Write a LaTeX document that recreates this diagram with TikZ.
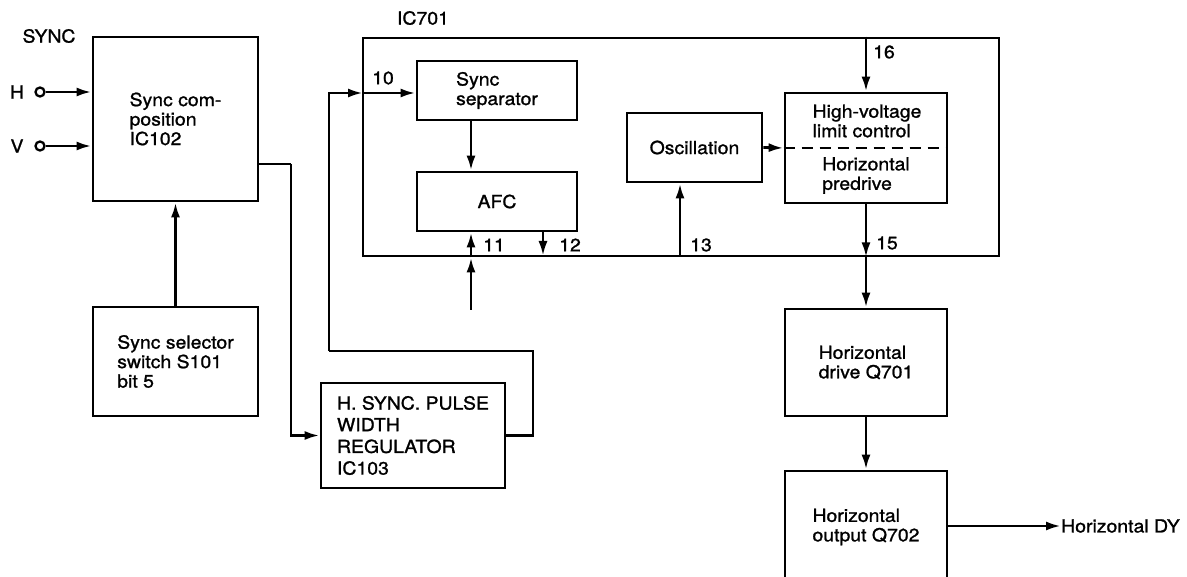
\documentclass[tikz,border=0pt]{standalone}
\usepackage{fontspec}
\setmainfont{TeX Gyre Heros}[FakeStretch=1.08,FakeBold=1.2]
\usetikzlibrary{arrows.meta,positioning,calc}

\tikzset{
  blk/.style={rectangle,draw,line width=2.8pt,align=left,inner sep=0pt},
  wire/.style={line width=2.8pt},
  arr/.style={wire,-{Latex[length=15pt,width=9pt]}},
  term/.style={circle,draw,line width=2.3pt,fill=white,minimum size=9pt,inner sep=0pt},
  pin/.style={inner sep=0pt},
  every node/.append style={font=\fontsize{18}{19.5}\selectfont}
}

\begin{document}
\begin{tikzpicture}[x=1pt,y=-1pt]
\path[use as bounding box,clip] (0,0) rectangle (1187,577);

        % Sync side
\node[pin] (synclbl) at (49,36) {SYNC};
\node[pin] (hlbl) at (17,92) {H};
\node[pin] (vlbl) at (17,146) {V};
\node[term] (hin) at (40,92) {};
\node[term] (vin) at (40,146) {};
\node[blk,minimum width=165pt,minimum height=164pt] (comp) at (175.5,119) {Sync com-\\position\\IC102};
\node[blk,minimum width=165pt,minimum height=109pt] (sel) at (175.5,361.5) {Sync selector\\switch S101\\bit 5};
\node[blk,minimum width=184pt,minimum height=105pt,font=\fontsize{18}{21.7}\selectfont] (hsync) at (413,435.5) {H. SYNC. PULSE\\WIDTH\\REGULATOR\\IC103};

        % IC701
\node[pin] (iclbl) at (423,18) {IC701};
\node[blk,minimum width=636pt,minimum height=218pt] (ic) at (681,147) {};
\node[blk,minimum width=160pt,minimum height=59pt] (sep) at (497,90.5) {Sync\\separator};
\node[blk,minimum width=160pt,minimum height=59pt] (afc) at (497,201.5) {AFC};
\node[blk,minimum width=135pt,minimum height=69pt] (osc) at (694.5,147.5) {Oscillation};
\node[blk,minimum width=162pt,minimum height=110pt] (hv) at (866,148) {};
\node[align=left,inner sep=0pt] (hvtop) at (867,121) {High-voltage\\limit control};
\node[align=left,inner sep=0pt] (hvbot) at (866,175.5) {Horizontal\\predrive};

        % Output stages
\node[blk,minimum width=162pt,minimum height=107pt] (drv) at (866,362.5) {Horizontal\\drive Q701};
\node[blk,minimum width=162pt,minimum height=112pt] (out) at (866,527) {Horizontal\\output Q702};
\node[pin,anchor=west] (dy) at (1061,526) {Horizontal DY};

        % pin numbers
\node[pin] (n10) at (383,78) {10};
\node[pin] (n11) at (494,245) {11};
\node[pin] (n12) at (570,245) {12};
\node[pin] (n13) at (701,245) {13};
\node[pin] (n15) at (887,243) {15};
\node[pin] (n16) at (884,52) {16};

\coordinate (c1) at (291,164);
\coordinate (l1) at (533,351);
\coordinate (l2) at (329,351);
\coordinate (p10) at (363,93);
\coordinate (in11) at (471,310);
\coordinate (p12) at (543,256);
\coordinate (p13) at (680,256);

\draw[arr] (hin) -- (hin -| comp.west);
\draw[arr] (vin) -- (vin -| comp.west);
\draw[arr] (sel.north) -- (comp.south);
\draw[wire] (comp.east |- c1) -- (c1);
\draw[arr] (c1) -- (c1 |- hsync.west) -- (hsync.west);
\draw[wire] (hsync.east) -| (l1) -- (l2);
\draw[arr] (l2) -- (l2 |- p10) -- (p10);
\draw[arr] (p10) -- (p10 -| sep.west);
\draw[arr] (sep.south -| in11) -- (afc.north -| in11);
\draw[arr] (in11) -- (in11 |- ic.south);
\draw[arr] (in11 |- ic.south) -- (in11 |- afc.south);
\draw[arr] (p12 |- afc.south) -- (p12);
\draw[arr] (p13) -- (p13 |- osc.south);
\draw[arr] (osc.east) -- (hv.west);
\draw[wire,dash pattern=on 11pt off 7pt] (hv.west) -- (hv.east);
\draw[arr] (hv.north |- ic.north) -- (hv.north);
\draw[arr] (hv.south) -- (hv.south |- ic.south);
\draw[arr] (hv.south |- ic.south) -- (drv.north);
\draw[arr] (drv.south) -- (out.north);
\draw[arr] (out.east |- dy.west) -- (dy.west);
    \end{tikzpicture}
\end{document}
